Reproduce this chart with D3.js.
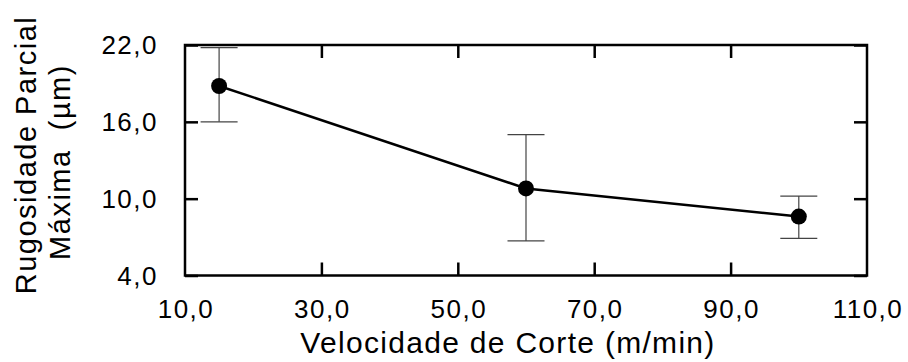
<!DOCTYPE html>
<html>
<head>
<meta charset="utf-8">
<script src="https://cdn.jsdelivr.net/npm/d3@7"></script>
<style>
  body { margin: 0; background: #fff; }
  text { font-family: "Liberation Sans", Arial, sans-serif; fill: #000; }
</style>
</head>
<body>
<svg width="908" height="362"></svg>
<script>
// cutting speed (m/min) vs max partial roughness (um)
const speeds = [15, 60, 100];
const roughness = [18.8, 10.8, 8.6];
const errLow = [16.0, 6.7, 6.9];
const errHigh = [21.8, 15.0, 10.2];

const xTicks = [10, 30, 50, 70, 90, 110];
const yTicks = [4, 10, 16, 22];

const svg = d3.select("svg");
const pLeft = 185, pRight = 867, pTop = 45, pBottom = 275.5;

const x = d3.scaleLinear().domain([10, 110]).range([pLeft, pRight]);
const y = d3.scaleLinear().domain([4, 22]).range([pBottom, pTop]);
const fmt = d => d.toFixed(1).replace(".", ",");

const data = speeds.map((s, i) => ({ s: s, v: roughness[i], lo: errLow[i], hi: errHigh[i] }));

// error bars
const eb = svg.append("g").attr("stroke", "#444").attr("stroke-width", 1.2);
data.forEach(function (d) {
    eb.append("line").attr("x1", x(d.s)).attr("x2", x(d.s)).attr("y1", y(d.lo)).attr("y2", y(d.hi));
    eb.append("line").attr("x1", x(d.s) - 18.5).attr("x2", x(d.s) + 18.5).attr("y1", y(d.lo)).attr("y2", y(d.lo));
    eb.append("line").attr("x1", x(d.s) - 18.5).attr("x2", x(d.s) + 18.5).attr("y1", y(d.hi)).attr("y2", y(d.hi));
});

svg.append("path")
    .datum(data)
    .attr("fill", "none")
    .attr("stroke", "#000")
    .attr("stroke-width", 2.5)
    .attr("d", d3.line().x(d => x(d.s)).y(d => y(d.v)));

svg.selectAll("circle.pt")
    .data(data)
    .enter()
    .append("circle")
    .attr("class", "pt")
    .attr("cx", d => x(d.s))
    .attr("cy", d => y(d.v))
    .attr("r", 8)
    .attr("fill", "#000");

// frame with inward ticks on all four sides
const tl = 13;
svg.append("g").attr("transform", "translate(0," + pBottom + ")")
    .call(d3.axisTop(x).tickValues(xTicks.slice(1, -1)).tickSize(tl).tickFormat(""));
svg.append("g").attr("transform", "translate(0," + pTop + ")")
    .call(d3.axisBottom(x).tickValues(xTicks.slice(1, -1)).tickSize(tl).tickFormat(""));
svg.append("g").attr("transform", "translate(" + pLeft + ",0)")
    .call(d3.axisRight(y).tickValues(yTicks).tickSize(tl).tickFormat(""));
svg.append("g").attr("transform", "translate(" + pRight + ",0)")
    .call(d3.axisLeft(y).tickValues(yTicks).tickSize(tl).tickFormat(""));
svg.selectAll(".domain").remove();
svg.selectAll(".tick line").attr("stroke", "#000").attr("stroke-width", 2.5);

svg.append("rect")
    .attr("x", pLeft).attr("y", pTop)
    .attr("width", pRight - pLeft).attr("height", pBottom - pTop)
    .attr("fill", "none").attr("stroke", "#000").attr("stroke-width", 2.5);

// tick labels
svg.selectAll("text.xt")
    .data(xTicks)
    .enter()
    .append("text")
    .attr("class", "xt")
    .attr("x", d => x(d) + 1)
    .attr("y", 318)
    .attr("text-anchor", "middle")
    .style("font-size", "26px")
    .style("letter-spacing", "1.5px")
    .text(fmt);

svg.selectAll("text.yt")
    .data(yTicks)
    .enter()
    .append("text")
    .attr("class", "yt")
    .attr("x", 158)
    .attr("y", d => y(d) + 9)
    .attr("text-anchor", "end")
    .style("font-size", "26px")
    .style("letter-spacing", "1.5px")
    .text(fmt);

// axis titles
svg.append("text")
    .attr("x", (pLeft + pRight) / 2 - 18)
    .attr("y", 353)
    .attr("text-anchor", "middle")
    .style("font-size", "30px")
    .style("letter-spacing", "1.3px")
    .text("Velocidade de Corte (m/min)");

svg.append("text")
    .attr("transform", "translate(36,155)rotate(-90)")
    .attr("text-anchor", "middle")
    .style("font-size", "29px")
    .style("letter-spacing", "1.5px")
    .text("Rugosidade Parcial");

svg.append("text")
    .attr("transform", "translate(70,162)rotate(-90)")
    .attr("text-anchor", "middle")
    .style("font-size", "29px")
    .style("letter-spacing", "1.5px")
    .style("white-space", "pre")
    .text("Máxima  (µm)");
</script>
</body>
</html>
